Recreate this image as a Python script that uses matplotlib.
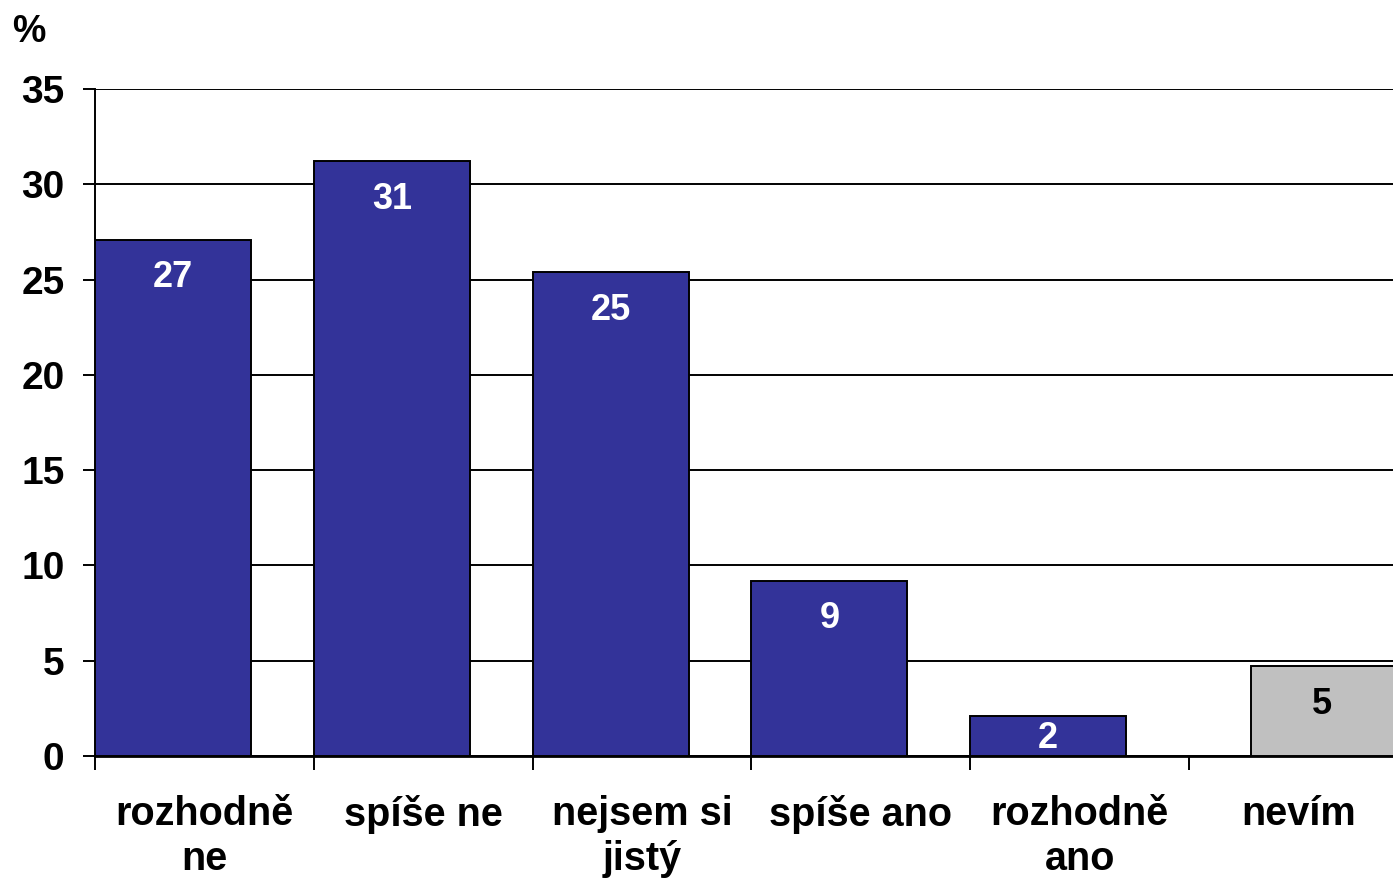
import matplotlib.pyplot as plt
import numpy as np

categories = ["rozhodně\nne", "spíše ne", "nejsem si\njistý", "spíše ano", "rozhodně\nano", "nevím"]
values = [27.1, 31.2, 25.4, 9.2, 2.1, 4.7]
labels = ["27", "31", "25", "9", "2", "5"]
is_dk = [False, False, False, False, False, True]

blue = "#333399"
grey = "#c0c0c0"

plt.rcParams['font.family'] = ['Liberation Sans', 'DejaVu Sans']
plt.rcParams['font.weight'] = 'bold'

fig = plt.figure(figsize=(13.93, 8.81), dpi=100)
ax = fig.add_axes([95 / 1393, 125 / 881, 1 - 95 / 1393, 667 / 881])

width = 0.713
x = np.arange(len(categories))
xmax = 1298 / 218.8

for i, (v, lab, dk) in enumerate(zip(values, labels, is_dk)):
    left = x[i] + (0.283 if dk else 0.0)
    ax.bar(left, v, width=width, align='edge', color=grey if dk else blue,
           edgecolor='black', linewidth=1.4, zorder=3)
    cx = (left + min(left + width, xmax)) / 2
    cy = max(v - 2.0, v / 2 - 0.15)
    ax.text(cx, cy, lab, ha='center', va='center', fontsize=26, fontweight='bold',
            color='black' if dk else 'white', zorder=4)

ax.set_ylim(0, 35)
ax.set_yticks(range(0, 36, 5))
ax.tick_params(axis='y', labelsize=28, length=9, width=1.4, pad=13)
ax.yaxis.grid(True, color='black', linewidth=1.4, zorder=1)
ax.set_axisbelow(True)

# category labels at slot centres, tick marks at slot boundaries
ax.set_xticks(x + 0.5)
ax.set_xticklabels(categories, fontsize=28.5, fontweight='bold', linespacing=1.25)
ax.tick_params(axis='x', length=0, pad=28)
ax.set_xticks(np.arange(0, len(categories) + 1), minor=True)
ax.tick_params(axis='x', which='minor', length=10, width=1.4, direction='out')
ax.set_xlim(0, xmax)

for s in ['top', 'right']:
    ax.spines[s].set_visible(False)
ax.spines['left'].set_linewidth(1.4)
ax.spines['bottom'].set_linewidth(2.0)

fig.text(12 / 1393, 1 - 42 / 881, "%", fontsize=27, fontweight='bold')

fig.savefig("out.png", dpi=100)
